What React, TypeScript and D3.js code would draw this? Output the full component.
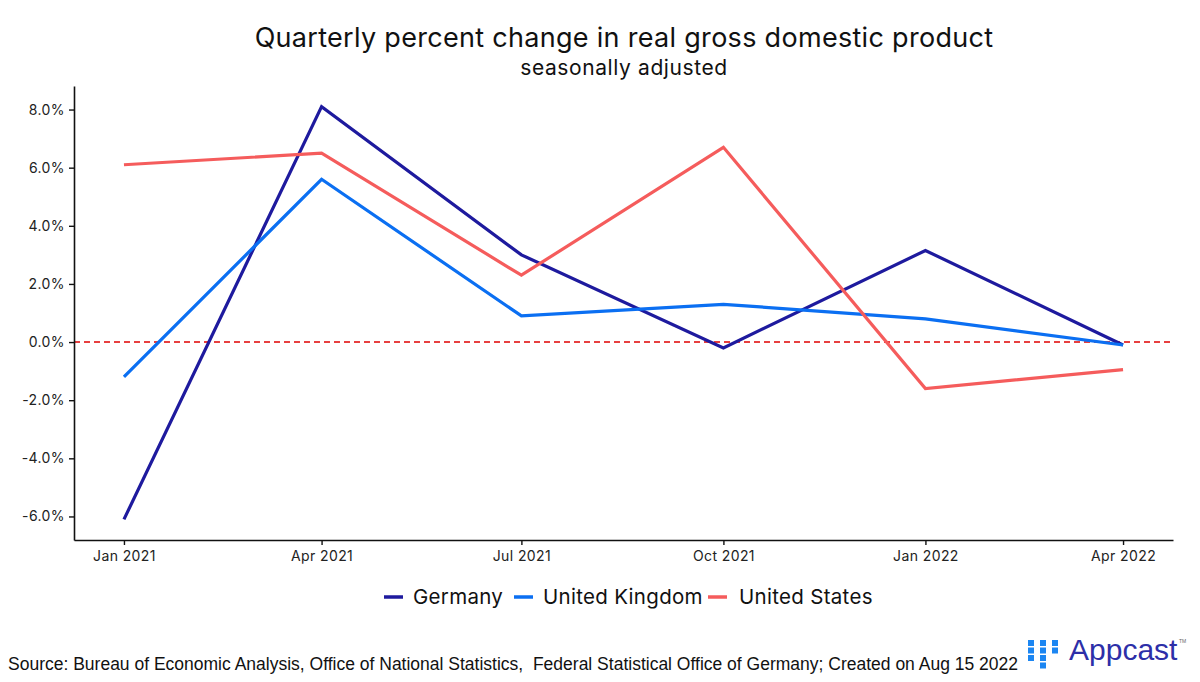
import { useEffect, useMemo, useRef } from "react";
import * as d3 from "d3";

const WIDTH = 1200;
const HEIGHT = 682;
const PLOT = { left: 74, right: 1173, top: 86, bottom: 540 };

const QUARTERS = ["2021-01-01", "2021-04-01", "2021-07-01", "2021-10-01", "2022-01-01", "2022-04-01"];
const QUARTER_LABELS = ["Jan 2021", "Apr 2021", "Jul 2021", "Oct 2021", "Jan 2022", "Apr 2022"];

const GERMANY = [-6.1, 8.1, 3.0, -0.2, 3.15, -0.1];
const UNITED_KINGDOM = [-1.2, 5.6, 0.9, 1.3, 0.8, -0.1];
const UNITED_STATES = [6.1, 6.5, 2.3, 6.7, -1.6, -0.95];

const Y_TICKS = [-6, -4, -2, 0, 2, 4, 6, 8];

const SERIES = [
  { name: "Germany", values: GERMANY, color: "#1e1a9e" },
  { name: "United Kingdom", values: UNITED_KINGDOM, color: "#0b6ff2" },
  { name: "United States", values: UNITED_STATES, color: "#f55c5c" },
];

// legend key x positions (key line start, text start)
const LEGEND_POS = [
  { key: 384, text: 413 },
  { key: 514, text: 543 },
  { key: 708, text: 739 },
];

const FONT = "Inter, 'Noto Sans', sans-serif";

const parse = d3.timeParse("%Y-%m-%d");
const dates = QUARTERS.map((q) => parse(q) as Date);

export default function App() {
  const xAxisRef = useRef<SVGGElement>(null);
  const yAxisRef = useRef<SVGGElement>(null);

  const xScale = useMemo(() => {
    const [d0, d1] = d3.extent(dates) as [Date, Date];
    const pad = (d1.getTime() - d0.getTime()) * 0.05;
    return d3
      .scaleTime()
      .domain([new Date(d0.getTime() - pad), new Date(d1.getTime() + pad)])
      .range([PLOT.left, PLOT.right]);
  }, []);

  const yScale = useMemo(() => {
    const all = SERIES.flatMap((s) => s.values);
    const [min, max] = d3.extent(all) as [number, number];
    const pad = (max - min) * 0.05;
    return d3.scaleLinear().domain([min - pad, max + pad]).range([PLOT.bottom, PLOT.top]);
  }, []);

  useEffect(() => {
    if (!xAxisRef.current || !yAxisRef.current) return;

    const xg = d3.select(xAxisRef.current);
    xg.selectAll("*").remove();
    xg.call(
      d3
        .axisBottom<Date>(xScale)
        .tickValues(dates)
        .tickFormat((_, i) => QUARTER_LABELS[i])
        .tickSize(5)
        .tickSizeOuter(0),
    );

    const yg = d3.select(yAxisRef.current);
    yg.selectAll("*").remove();
    yg.call(
      d3
        .axisLeft(yScale)
        .tickValues(Y_TICKS)
        .tickFormat((d) => `${(+d).toFixed(1)}%`)
        .tickSize(5)
        .tickSizeOuter(0),
    );

    [xg, yg].forEach((g) => {
      g.select(".domain").attr("stroke", "#111").attr("stroke-width", 1.6);
      g.selectAll(".tick line").attr("stroke", "#111").attr("stroke-width", 1.4);
      g.selectAll(".tick text")
        .attr("font-family", FONT)
        .attr("font-size", 14)
        .attr("letter-spacing", 0.4)
        .attr("fill", "#222");
    });
    xg.selectAll(".tick text").attr("dy", "0.9em");
    yg.selectAll(".tick text").attr("dx", "-1px");
  }, [xScale, yScale]);

  const line = d3
    .line<number>()
    .x((_, i) => xScale(dates[i]))
    .y((v) => yScale(v));

  const squares: [number, number][] = [
    [0, 0], [0, 1], [0, 2],
    [1, 0], [1, 1], [1, 2], [1, 3],
    [2, 0], [2, 1],
  ];

  return (
    <div style={{ position: "absolute", left: 0, top: 0 }}>
      <svg width={WIDTH} height={HEIGHT} style={{ display: "block", background: "#fff" }}>
        <text x={624} y={47} textAnchor="middle" fontFamily={FONT} fontSize={27} letterSpacing={0.3} fill="#111">
          Quarterly percent change in real gross domestic product
        </text>
        <text x={624} y={75} textAnchor="middle" fontFamily={FONT} fontSize={21} letterSpacing={0.6} fill="#111">
          seasonally adjusted
        </text>

        <line
          x1={PLOT.left}
          x2={PLOT.right}
          y1={yScale(0)}
          y2={yScale(0)}
          stroke="#e00000"
          strokeWidth={1.5}
          strokeDasharray="6 4"
        />

        {SERIES.map((s) => (
          <path
            key={s.name}
            d={line(s.values) ?? ""}
            fill="none"
            stroke={s.color}
            strokeWidth={3.2}
            strokeLinejoin="miter"
          />
        ))}

        <g ref={xAxisRef} transform={`translate(0,${PLOT.bottom})`} />
        <g ref={yAxisRef} transform={`translate(${PLOT.left},0)`} />

        <g fontFamily={FONT} fontSize={20.5} letterSpacing={0.3} fill="#111">
          {SERIES.map((s, i) => (
            <g key={s.name}>
              <line
                x1={LEGEND_POS[i].key}
                x2={LEGEND_POS[i].key + 19}
                y1={597}
                y2={597}
                stroke={s.color}
                strokeWidth={3.5}
              />
              <text x={LEGEND_POS[i].text} y={604}>
                {s.name}
              </text>
            </g>
          ))}
        </g>

        <text
          x={8}
          y={670}
          fontFamily="'Liberation Sans', Arial, sans-serif"
          fontSize={17.5}
          fill="#111"
          style={{ whiteSpace: "pre" }}
        >
          Source: Bureau of Economic Analysis, Office of National Statistics,  Federal Statistical Office of Germany; Created on Aug 15 2022
        </text>

        <g>
          {squares.map(([c, r], i) => (
            <rect key={i} x={1028 + c * 12} y={640 + r * 7.5} width={6} height={6} fill="#1c86f2" />
          ))}
          <text x={1069} y={660} fontFamily="'Liberation Sans', Arial, sans-serif" fontSize={30} fill="#2d2fa8">
            Appcast
          </text>
          <text x={1179} y={643} fontFamily="'Liberation Sans', Arial, sans-serif" fontSize={5} fill="#666">
            TM
          </text>
        </g>
      </svg>
    </div>
  );
}
